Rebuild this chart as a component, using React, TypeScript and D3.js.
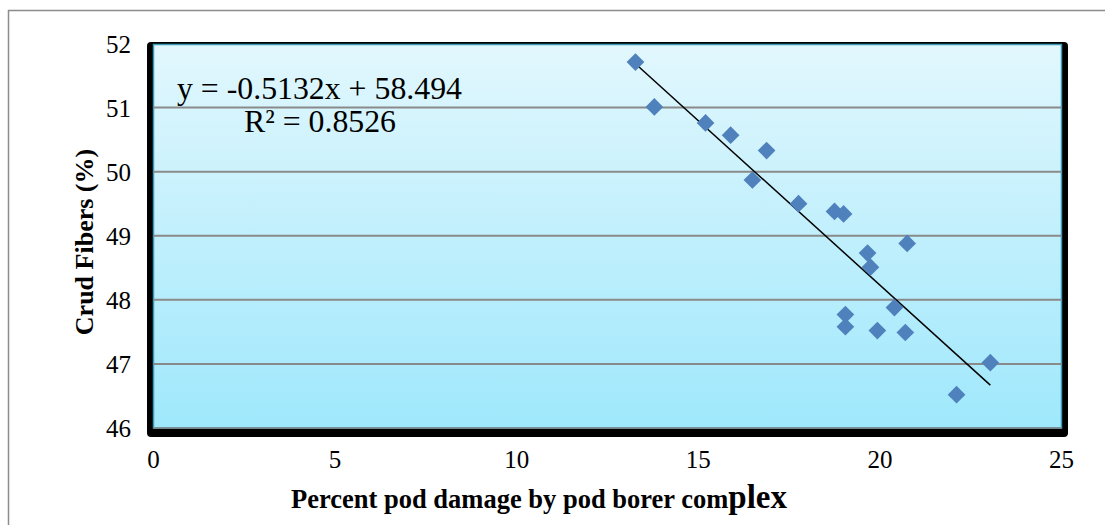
import React from "react";
import * as d3 from "d3";

const damage: number[] = [13.27, 13.79, 15.2, 15.89, 16.88, 16.49, 17.76, 18.75, 19.0, 19.66, 19.74, 20.75, 19.05, 19.05, 19.93, 20.4, 20.7, 22.11, 23.04];
const fibers: number[] = [51.71, 51.01, 50.76, 50.57, 50.33, 49.87, 49.5, 49.38, 49.34, 48.73, 48.51, 48.88, 47.77, 47.58, 47.52, 47.88, 47.49, 46.52, 47.02];
const xTicks: number[] = [0, 5, 10, 15, 20, 25];
const yTicks: number[] = [46, 47, 48, 49, 50, 51, 52];
const slope = -0.5132;
const intercept = 58.494;
const eqText = "y = -0.5132x + 58.494";
const r2Text = "R² = 0.8526";

const W = 1105;
const H = 525;
const L = 153.5, R = 1061.5, T = 43.5, B = 428;

export default function App() {
  const x = d3.scaleLinear().domain([0, 25]).range([L, R]);
  const y = d3.scaleLinear().domain([46, 52]).range([B, T]);
  const xmin = d3.min(damage) as number;
  const xmax = d3.max(damage) as number;
  const font = "'Liberation Serif', 'Times New Roman', serif";
  const diamond = d3.symbol().type(d3.symbolDiamond2).size(200)();
  return (
    <svg width={W} height={H} style={{ position: "absolute", left: 0, top: 0, background: "#fff" }}>
      <defs>
        <linearGradient id="bg" x1="0" y1="0" x2="0" y2="1">
          <stop offset="0" stopColor="#e2f7fd" />
          <stop offset="1" stopColor="#9fe8fc" />
        </linearGradient>
      </defs>
      <rect x={8.5} y={10.5} width={1200} height={600} fill="none" stroke="#8c8c8c" strokeWidth={1.5} />
      {/* frame shadow */}
      <rect x={147} y={42} width={1068 - 147} height={437 - 42} rx={4} fill="#000" />
      <rect x={L} y={T + 1} width={R - L} height={B - T - 1} fill="url(#bg)" stroke="#3a9ab8" strokeWidth={1.5} />
      {yTicks.slice(1, -1).map((t) => (
        <line key={t} x1={L} x2={R} y1={y(t)} y2={y(t)} stroke="#8a8a8a" strokeWidth={2} />
      ))}
      <line x1={L} x2={R} y1={B} y2={B} stroke="#8a8a8a" strokeWidth={1.5} />
      {/* trendline */}
      <line x1={x(xmin)} y1={y(slope * xmin + intercept)} x2={x(xmax)} y2={y(slope * xmax + intercept)} stroke="#000" strokeWidth={1.5} />
      {damage.map((d, i) => (
        <path key={i} d={diamond as string} transform={`translate(${x(d)},${y(fibers[i])})`} fill="#4f81bd" />
      ))}
      {/* tick labels */}
      {yTicks.map((t) => (
        <text key={t} x={131} y={y(t) + 9} textAnchor="end" fontFamily={font} fontSize={25} fill="#000">{t}</text>
      ))}
      {xTicks.map((t) => (
        <text key={t} x={x(t)} y={468} textAnchor="middle" fontFamily={font} fontSize={25} fill="#000">{t}</text>
      ))}
      <text x={177} y={99} fontFamily={font} fontSize={31.8} fill="#000">{eqText}</text>
      <text x={244} y={132} fontFamily={font} fontSize={31.8} fill="#000">{r2Text}</text>
      <text x={539} y={508} textAnchor="middle" fontFamily={font} fontSize={26.5} fontWeight="bold" fill="#000">
        Percent pod damage by pod borer com<tspan fontSize={33}>plex</tspan>
      </text>
      <text transform="translate(93,242) rotate(-90)" textAnchor="middle" fontFamily={font} fontSize={26} fontWeight="bold" fill="#000">
        Crud Fibers (%)
      </text>
    </svg>
  );
}
